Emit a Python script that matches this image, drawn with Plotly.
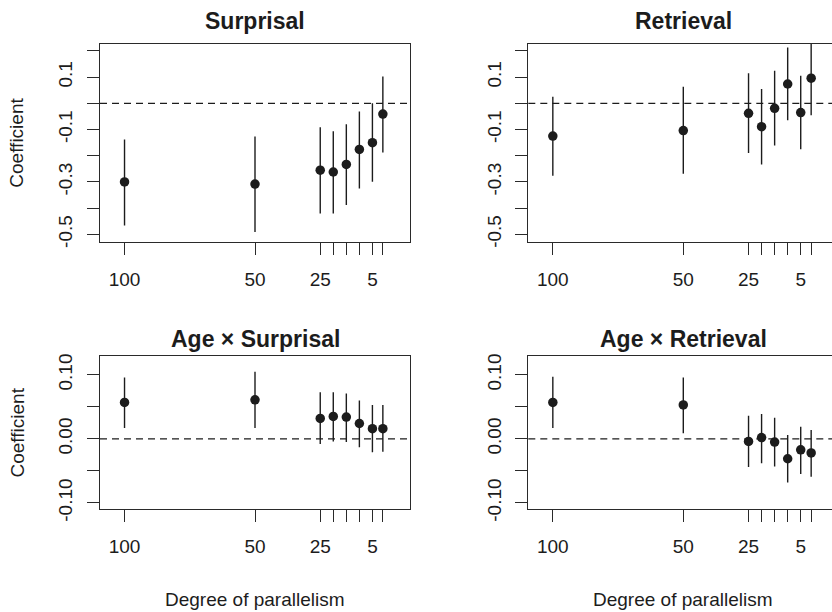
import plotly.graph_objects as go

# ---------------- data ----------------
x_levels = [100, 50, 25, 20, 15, 10, 5, 1]
x_tick_text = ["100", "50", "25", "", "", "", "5", ""]

surp_est = [-0.300, -0.308, -0.255, -0.262, -0.233, -0.176, -0.150, -0.041]
surp_lo = [-0.466, -0.491, -0.420, -0.420, -0.388, -0.325, -0.299, -0.188]
surp_hi = [-0.138, -0.126, -0.091, -0.106, -0.080, -0.031, 0.000, 0.103]

retr_est = [-0.125, -0.104, -0.038, -0.089, -0.019, 0.074, -0.035, 0.096]
retr_lo = [-0.276, -0.269, -0.189, -0.233, -0.161, -0.064, -0.175, -0.045]
retr_hi = [0.025, 0.063, 0.115, 0.055, 0.125, 0.213, 0.105, 0.237]

age_surp_est = [0.057, 0.061, 0.032, 0.035, 0.034, 0.024, 0.016, 0.016]
age_surp_lo = [0.017, 0.017, -0.008, -0.004, -0.005, -0.013, -0.021, -0.020]
age_surp_hi = [0.096, 0.105, 0.073, 0.073, 0.071, 0.060, 0.053, 0.053]

age_retr_est = [0.057, 0.053, -0.004, 0.002, -0.005, -0.031, -0.017, -0.022]
age_retr_lo = [0.017, 0.009, -0.044, -0.038, -0.043, -0.068, -0.055, -0.059]
age_retr_hi = [0.097, 0.096, 0.036, 0.039, 0.033, 0.006, 0.019, 0.014]

top_ticks = [-0.5, -0.4, -0.3, -0.2, -0.1, 0.0, 0.1, 0.2]
top_tick_text = ["-0.5", "", "-0.3", "", "-0.1", "", "0.1", ""]
bot_ticks = [-0.10, -0.05, 0.00, 0.05, 0.10]
bot_tick_text = ["-0.10", "", "0.00", "", "0.10"]

titles = ["Surprisal", "Retrieval", "Age \u00d7 Surprisal", "Age \u00d7 Retrieval"]

# ---------------- layout helpers ----------------
W, H = 832, 612
FONT = "Liberation Sans, Arial, Helvetica, sans-serif"
INK = "#1c1c1c"

def px_x(p):
    return p / W

def py_y(p):
    return 1 - p / H

# panel boxes in pixels (left, right, top, bottom)
boxes = [
    (100, 410, 42.7, 245.7),
    (528.3, 832, 42.7, 245.7),
    (100, 410, 363.3, 519.3),
    (528.3, 832, 363.3, 519.3),
]
units_per_px = 118.8 / 310.0
x_left_val = 109.4

panels = [
    (surp_est, surp_lo, surp_hi, [-0.528, 0.228], top_ticks, top_tick_text),
    (retr_est, retr_lo, retr_hi, [-0.528, 0.228], top_ticks, top_tick_text),
    (age_surp_est, age_surp_lo, age_surp_hi, [-0.1088, 0.1288], bot_ticks, bot_tick_text),
    (age_retr_est, age_retr_lo, age_retr_hi, [-0.1088, 0.1288], bot_ticks, bot_tick_text),
]

fig = go.Figure()
layout = {}
shapes = []
annotations = []

for i, (est, lo, hi, yr, yt, ytt) in enumerate(panels):
    n = i + 1
    xa = "x" if n == 1 else f"x{n}"
    ya = "y" if n == 1 else f"y{n}"
    L, R, T, B = boxes[i]
    right_open = R >= W
    x_right_val = x_left_val - (R - L) * units_per_px

    up = [h - e for h, e in zip(hi, est)]
    dn = [e - l for e, l in zip(est, lo)]
    fig.add_trace(go.Scatter(
        x=x_levels, y=est, mode="markers", xaxis=xa, yaxis=ya,
        marker=dict(symbol="circle", size=9.5, color=INK),
        error_y=dict(type="data", symmetric=False, array=up, arrayminus=dn,
                     width=0, thickness=1.4, color=INK),
        showlegend=False, hoverinfo="skip",
    ))

    axis_common = dict(showgrid=False, zeroline=False, showline=True,
                       linecolor="#2a2a2a", linewidth=1.4,
                       ticks="outside", ticklen=12, tickwidth=1.4, tickcolor="#2a2a2a",
                       tickfont=dict(family=FONT, size=19, color=INK))
    layout["xaxis" if n == 1 else f"xaxis{n}"] = dict(
        axis_common,
        domain=[px_x(L), min(px_x(R), 1.0)],
        range=[x_left_val, x_right_val],
        anchor=ya, mirror=True,
        tickmode="array", tickvals=x_levels, ticktext=x_tick_text,
        ticklabelstandoff=8,
    )
    layout["yaxis" if n == 1 else f"yaxis{n}"] = dict(
        axis_common,
        domain=[py_y(B), py_y(T)],
        range=yr,
        anchor=xa, mirror=(not right_open),
        tickmode="array", tickvals=yt, ticktext=ytt,
        tickangle=-90, ticklabelstandoff=7,
    )

    shapes.append(dict(type="line", xref=f"{xa} domain", yref=ya,
                       x0=0, x1=1, y0=0, y1=0,
                       line=dict(color=INK, width=1.3, dash="7px,5px")))

    cx = (L + (L + 310)) / 2
    annotations.append(dict(text=f"<b>{titles[i]}</b>", xref="paper", yref="paper",
                            x=px_x(cx), y=py_y(19 if i < 2 else 345),
                            xanchor="center", yanchor="middle", showarrow=False,
                            font=dict(family=FONT, size=23, color=INK)))
    if n in (1, 3):
        annotations.append(dict(text="Coefficient", xref="paper", yref="paper",
                                x=px_x(17), y=py_y((T + B) / 2), textangle=-90,
                                xanchor="center", yanchor="middle", showarrow=False,
                                font=dict(family=FONT, size=19, color=INK)))
    if n in (3, 4):
        annotations.append(dict(text="Degree of parallelism", xref="paper", yref="paper",
                                x=px_x(cx), y=py_y(612),
                                xanchor="center", yanchor="middle", showarrow=False,
                                font=dict(family=FONT, size=19, color=INK)))

fig.update_layout(
    width=W, height=H,
    margin=dict(l=0, r=0, t=0, b=0),
    paper_bgcolor="white", plot_bgcolor="white",
    shapes=shapes, annotations=annotations,
    **layout,
)

fig.write_html("out.html")
